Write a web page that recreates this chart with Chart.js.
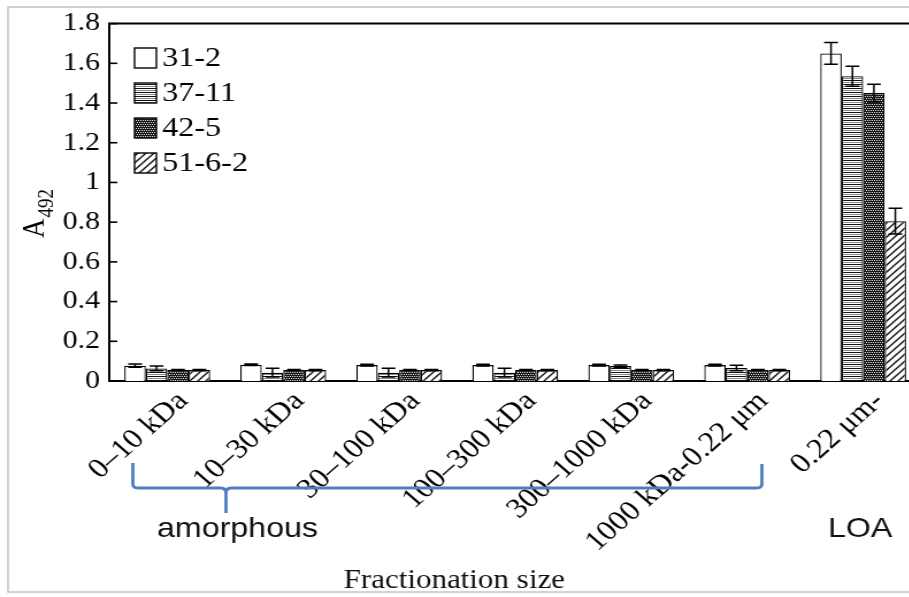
<!DOCTYPE html>
<html>
<head>
<meta charset="utf-8">
<script src="https://cdn.jsdelivr.net/npm/chart.js@4/dist/chart.umd.min.js"></script>
<style>
  html, body { margin: 0; padding: 0; background: #fff; overflow: hidden; }
  #wrap { width: 909px; height: 597px; overflow: hidden; }
  /* the figure is a little wider than tall in its text, so stretch the canvas sideways */
  #plot { display: block; transform: scaleX(1.15); transform-origin: 0 0; }
</style>
</head>
<body>
<div id="wrap"><canvas id="plot" width="810" height="597"></canvas></div>
<script>
const categories = ["0–10 kDa", "10–30 kDa", "30–100 kDa", "100–300 kDa", "300–1000 kDa", "1000 kDa-0.22 μm", "0.22 μm-"];
const seriesNames = ["31-2", "37-11", "42-5", "51-6-2"];

const a31_2 = [0.077, 0.082, 0.08, 0.08, 0.08, 0.08, 1.65];
const a37_11 = [0.063, 0.042, 0.042, 0.042, 0.075, 0.065, 1.535];
const a42_5 = [0.055, 0.055, 0.055, 0.055, 0.055, 0.055, 1.45];
const a51_6_2 = [0.055, 0.055, 0.055, 0.055, 0.055, 0.055, 0.805];

const e31_2 = [0.008, 0.004, 0.004, 0.004, 0.004, 0.004, 0.055];
const e37_11 = [0.012, 0.022, 0.022, 0.022, 0.006, 0.014, 0.05];
const e42_5 = [0.003, 0.003, 0.003, 0.003, 0.003, 0.003, 0.045];
const e51_6_2 = [0.003, 0.003, 0.003, 0.003, 0.003, 0.003, 0.065];

const yTicks = [0, 0.2, 0.4, 0.6, 0.8, 1, 1.2, 1.4, 1.6, 1.8];

const SERIF = "'Liberation Serif', 'Times New Roman', serif";
const SANS = "'Liberation Sans', Arial, sans-serif";

function tile(w, h, paint) {
  const c = document.createElement("canvas");
  c.width = w; c.height = h;
  const g = c.getContext("2d");
  paint(g);
  return g.createPattern(c, "repeat");
}

const plain = "#ffffff";
const stripes = tile(1, 4, g => {
  g.fillStyle = "#fff"; g.fillRect(0, 0, 1, 4);
  g.fillStyle = "#111"; g.fillRect(0, 0, 1, 1);
  g.fillStyle = "#888"; g.fillRect(0, 2, 1, 1);
});
const dots = tile(4, 4, g => {
  g.fillStyle = "#151515"; g.fillRect(0, 0, 4, 4);
  g.fillStyle = "#e8e8e8";
  g.fillRect(0, 0, 1, 1); g.fillRect(2, 0, 1, 1);
  g.fillRect(1, 2, 1, 1); g.fillRect(3, 2, 1, 1);
});
const hatch = tile(7, 7, g => {
  g.fillStyle = "#fff"; g.fillRect(0, 0, 7, 7);
  g.strokeStyle = "#111"; g.lineWidth = 1.4;
  g.beginPath();
  g.moveTo(-1, 8); g.lineTo(8, -1);
  g.moveTo(-1, 1); g.lineTo(1, -1);
  g.moveTo(6, 8); g.lineTo(8, 6);
  g.stroke();
});

const fills = [plain, stripes, dots, hatch];
const values = [a31_2, a37_11, a42_5, a51_6_2];
const errors = [e31_2, e37_11, e42_5, e51_6_2];

// error bars, inner y ticks, top frame line
const extras = {
  id: "extras",
  afterDatasetsDraw(chart) {
    const ctx = chart.ctx;
    const y = chart.scales.y;
    ctx.save();
    ctx.strokeStyle = "#000";
    ctx.lineWidth = 1.5;
    chart.data.datasets.forEach((ds, i) => {
      const meta = chart.getDatasetMeta(i);
      meta.data.forEach((bar, j) => {
        const v = ds.data[j], e = errors[i][j];
        const top = y.getPixelForValue(v + e);
        const bot = y.getPixelForValue(v - e);
        const half = bar.width * 0.32;
        ctx.beginPath();
        ctx.moveTo(bar.x, top); ctx.lineTo(bar.x, bot);
        ctx.moveTo(bar.x - half, top); ctx.lineTo(bar.x + half, top);
        ctx.moveTo(bar.x - half, bot); ctx.lineTo(bar.x + half, bot);
        ctx.stroke();
      });
    });
    ctx.restore();
  },
  afterDraw(chart) {
    const ctx = chart.ctx;
    const area = chart.chartArea;
    const y = chart.scales.y;
    ctx.save();

    // outer light frame
    ctx.strokeStyle = "#c4c4c4";
    ctx.lineWidth = 1.5;
    ctx.strokeRect(7, 7, 900, 585);

    ctx.strokeStyle = "#000";
    ctx.lineWidth = 2;
    ctx.beginPath();
    ctx.moveTo(area.left - 1, area.top);
    ctx.lineTo(area.right + 1, area.top);
    ctx.lineTo(area.right + 1, area.bottom);
    ctx.stroke();

    ctx.lineWidth = 1.6;
    yTicks.forEach(t => {
      const py = y.getPixelForValue(t);
      ctx.beginPath();
      ctx.moveTo(area.left, py); ctx.lineTo(area.left + 7, py);
      ctx.stroke();
    });

    // legend
    ctx.font = "28px " + SERIF;
    ctx.textBaseline = "middle";
    ctx.textAlign = "left";
    seriesNames.forEach((name, i) => {
      const cy = 58 + i * 35;
      ctx.fillStyle = fills[i];
      ctx.fillRect(117, cy - 10, 19, 20);
      ctx.strokeStyle = "#000";
      ctx.lineWidth = 1.4;
      ctx.strokeRect(117, cy - 10, 19, 20);
      ctx.fillStyle = "#000";
      ctx.fillText(name, 141, cy + 1);
    });

    // y axis title A492
    ctx.save();
    ctx.translate(38, 238);
    ctx.rotate(-Math.PI / 2);
    ctx.textBaseline = "alphabetic";
    ctx.font = "27px " + SERIF;
    ctx.fillText("A", 0, 0);
    const aw = ctx.measureText("A").width;
    ctx.font = "19px " + SERIF;
    ctx.fillText("492", aw + 1, 8);
    ctx.restore();

    // bracket under the amorphous fractions
    ctx.strokeStyle = "#4f7fbf";
    ctx.lineWidth = 2.8;
    ctx.lineJoin = "round";
    ctx.beginPath();
    ctx.moveTo(115.5, 463);
    ctx.lineTo(115.5, 484);
    ctx.quadraticCurveTo(115.5, 488, 120, 488);
    ctx.lineTo(192, 488);
    ctx.quadraticCurveTo(196.5, 488, 196.5, 493);
    ctx.lineTo(196.5, 513);
    ctx.moveTo(196.5, 493);
    ctx.quadraticCurveTo(196.5, 488, 201, 488);
    ctx.lineTo(658, 488);
    ctx.quadraticCurveTo(662.5, 488, 662.5, 484);
    ctx.lineTo(662.5, 464);
    ctx.stroke();

    ctx.fillStyle = "#111";
    ctx.font = "28px " + SANS;
    ctx.textBaseline = "alphabetic";
    ctx.fillText("amorphous", 136.5, 537);
    ctx.fillText("LOA", 720, 537);

    ctx.font = "27px " + SERIF;
    ctx.textAlign = "center";
    ctx.fillText("Fractionation size", 395, 588);
    ctx.restore();
  }
};

new Chart(document.getElementById("plot").getContext("2d"), {
  type: "bar",
  data: {
    labels: categories,
    datasets: seriesNames.map((name, i) => ({
      label: name,
      data: values[i],
      backgroundColor: fills[i],
      borderColor: "#000",
      borderWidth: 1.3,
      borderSkipped: "bottom",
      categoryPercentage: 0.74,
      barPercentage: 1
    }))
  },
  options: {
    responsive: false,
    animation: false,
    layout: { padding: { top: 18, right: 9, left: 0, bottom: 0 } },
    plugins: { legend: { display: false }, tooltip: { enabled: false } },
    scales: {
      x: {
        grid: { display: false, drawTicks: false },
        border: { color: "#000", width: 2 },
        ticks: {
          color: "#000",
          font: { family: SERIF, size: 28 },
          minRotation: 45,
          maxRotation: 45,
          autoSkip: false,
          labelOffset: 14,
          padding: 4
        },
        afterFit: s => { s.height = 216; }
      },
      y: {
        min: 0,
        max: 1.8,
        grid: { display: false, drawTicks: false },
        border: { color: "#000", width: 2 },
        ticks: {
          stepSize: 0.2,
          color: "#000",
          font: { family: SERIF, size: 26 },
          padding: 8,
          callback: v => String(+v.toFixed(1))
        },
        afterFit: s => { s.width = 95; }
      }
    }
  },
  plugins: [extras]
});
</script>
</body>
</html>
